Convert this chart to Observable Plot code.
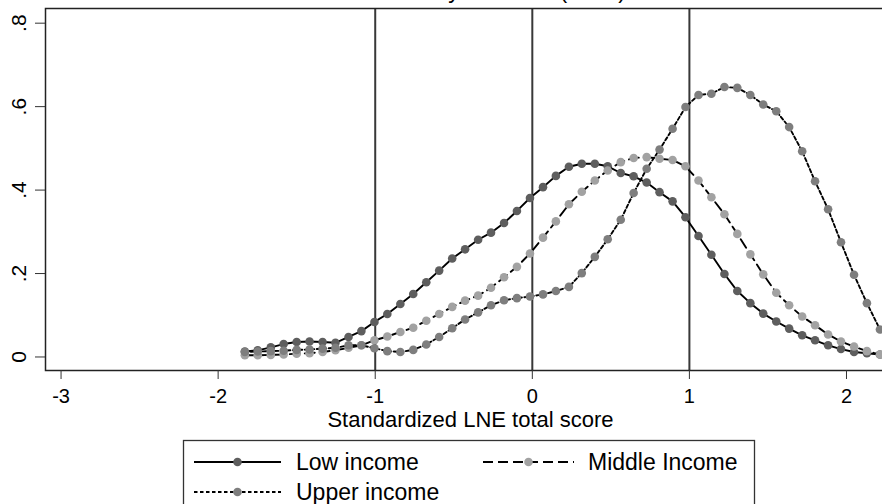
<!DOCTYPE html>
<html><head><meta charset="utf-8">
<script src="https://cdn.jsdelivr.net/npm/d3@7"></script>
<script src="https://cdn.jsdelivr.net/npm/@observablehq/plot@0.6"></script>
<style>
html,body{margin:0;padding:0;background:#fff;overflow:hidden;width:882px;height:504px}
#wrap{position:relative;width:882px;height:504px;overflow:hidden;font-family:"Liberation Sans",Arial,sans-serif}
#title{position:absolute;left:0;width:940px;top:-21px;text-align:center;font-size:23px;line-height:23px;color:#000;white-space:nowrap;z-index:2}
#chart{position:absolute;left:0;top:0;width:896px}
#chart svg{max-width:none !important}
#legend{position:absolute;left:0;top:438px}
</style></head><body>
<div id="wrap"><div id="chart"></div><div id="title">Kernel density estimate (2007)</div><svg id="legend" width="882" height="66"></svg></div>
<script>
const xGrid = [-1.830,-1.748,-1.665,-1.583,-1.500,-1.418,-1.335,-1.253,-1.170,-1.088,
  -1.005,-0.923,-0.840,-0.758,-0.675,-0.593,-0.510,-0.428,-0.345,-0.263,
  -0.180,-0.098,-0.015,0.068,0.150,0.233,0.315,0.398,0.480,0.563,
  0.645,0.728,0.810,0.893,0.975,1.058,1.140,1.223,1.305,1.388,
  1.470,1.553,1.635,1.718,1.800,1.883,1.965,2.048,2.130,2.213];
const lowIncome = [0.013,0.016,0.023,0.031,0.036,0.037,0.036,0.034,0.048,0.062,
  0.084,0.103,0.127,0.151,0.179,0.207,0.236,0.258,0.281,0.298,
  0.321,0.350,0.381,0.407,0.434,0.456,0.463,0.463,0.457,0.441,
  0.433,0.418,0.395,0.373,0.335,0.290,0.245,0.199,0.158,0.129,
  0.104,0.085,0.068,0.052,0.040,0.028,0.019,0.012,0.009,0.006];
const middleIncome = [0.004,0.004,0.005,0.006,0.008,0.009,0.012,0.016,0.022,0.028,
  0.040,0.049,0.060,0.070,0.087,0.103,0.120,0.135,0.147,0.166,
  0.191,0.216,0.248,0.286,0.325,0.366,0.396,0.423,0.447,0.467,
  0.477,0.479,0.475,0.472,0.457,0.423,0.383,0.342,0.295,0.246,
  0.198,0.154,0.124,0.097,0.076,0.054,0.037,0.025,0.014,0.006];
const upperIncome = [0.012,0.013,0.014,0.015,0.017,0.018,0.020,0.022,0.028,0.028,
  0.021,0.014,0.012,0.017,0.030,0.048,0.069,0.090,0.107,0.124,
  0.136,0.141,0.145,0.150,0.158,0.168,0.201,0.240,0.282,0.329,
  0.393,0.451,0.497,0.547,0.599,0.628,0.631,0.647,0.645,0.628,
  0.605,0.589,0.551,0.493,0.421,0.354,0.275,0.197,0.129,0.066];
const seriesNames = ["Low income","Middle Income","Upper income"];
const xTicks = [-3,-2,-1,0,1,2];
const xTickLabels = ["-3","-2","-1","0","1","2"];
const yTicks = [0,0.2,0.4,0.6,0.8];
const yTickLabels = ["0",".2",".4",".6",".8"];
const refLines = [-1,0,1];
const xTitle = "Standardized LNE total score";

const seriesValues = [lowIncome, middleIncome, upperIncome];
const seriesStyle = [
  {dash: null, fill: "#5e5e5e"},
  {dash: "10,5", fill: "#a2a2a2"},
  {dash: "3.5,2.5", fill: "#7e7e7e"}
];
const FONT = "Liberation Sans, Arial, sans-serif";

const rows = [];
seriesNames.forEach((name, s) => {
  xGrid.forEach((x, i) => rows.push({series: name, x, y: seriesValues[s][i]}));
});

const marks = [
  Plot.ruleX(refLines, {stroke: "#383838", strokeWidth: 2})
];
seriesNames.forEach((name, s) => {
  const d = rows.filter(r => r.series === name);
  marks.push(Plot.line(d, {x: "x", y: "y", stroke: "#000", strokeWidth: 1.9,
    strokeDasharray: seriesStyle[s].dash || undefined}));
  marks.push(Plot.dot(d, {x: "x", y: "y", r: 4.3, fill: seriesStyle[s].fill, stroke: "none"}));
});
marks.push(
  Plot.frame({stroke: "#222", strokeWidth: 1.5}),
  Plot.axisX({ticks: xTicks, tickSize: 9, tickPadding: 9, fontSize: 20, label: null,
    stroke: "#333", tickFormat: d => xTickLabels[xTicks.indexOf(d)]}),
  Plot.axisY({ticks: yTicks, tickSize: 10, label: null, stroke: "#333", tickFormat: () => ""}),
  Plot.text(yTicks, {y: d => d, text: (d, i) => yTickLabels[i], frameAnchor: "left", dx: -26,
    rotate: -90, fontSize: 21, textAnchor: "middle", lineAnchor: "middle", fill: "#000"}),
  Plot.text([xTitle], {frameAnchor: "bottom", dy: 49, fontSize: 22, lineAnchor: "middle", fill: "#000"})
);

const chart = Plot.plot({
  width: 896, height: 438,
  marginLeft: 45, marginRight: 1, marginTop: 8, marginBottom: 68,
  x: {domain: [-3.099, 2.312]},
  y: {domain: [-0.0324, 0.8352]},
  style: {fontFamily: FONT, color: "#000", background: "#fff", maxWidth: "none"},
  marks
});
chart.style.maxWidth = "none";
document.getElementById("chart").appendChild(chart);

// Legend below the plot
const lg = d3.select("#legend");
lg.append("rect").attr("x", 183.5).attr("y", 2.5).attr("width", 571).attr("height", 120)
  .attr("fill", "none").attr("stroke", "#333").attr("stroke-width", 1.3);
const legendPos = [{x0: 194, x1: 281, tx: 296, cy: 24}, {x0: 483, x1: 574, tx: 588, cy: 24}, {x0: 194, x1: 281, tx: 296, cy: 54}];
seriesNames.forEach((name, s) => {
  const p = legendPos[s];
  const ln = lg.append("line").attr("x1", p.x0).attr("x2", p.x1).attr("y1", p.cy).attr("y2", p.cy)
    .attr("stroke", "#000").attr("stroke-width", 1.8);
  if (seriesStyle[s].dash) ln.attr("stroke-dasharray", seriesStyle[s].dash);
  lg.append("circle").attr("cx", (p.x0 + p.x1) / 2).attr("cy", p.cy).attr("r", 4.3).attr("fill", seriesStyle[s].fill);
  lg.append("text").attr("x", p.tx).attr("y", p.cy).attr("dy", "0.35em")
    .attr("font-family", FONT).attr("font-size", 23).attr("fill", "#000").text(name);
});
</script>
</body></html>
